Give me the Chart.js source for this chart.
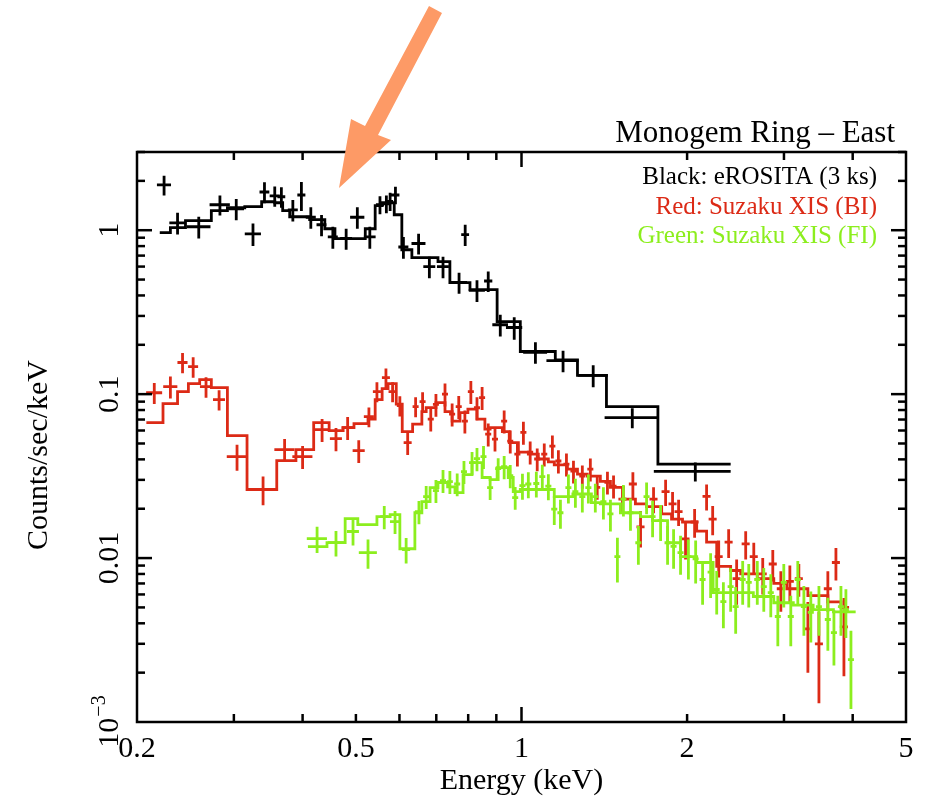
<!DOCTYPE html>
<html>
<head>
<meta charset="utf-8">
<script src="https://cdn.jsdelivr.net/npm/chart.js@4.4.4/dist/chart.umd.min.js"></script>
<style>
  html, body { margin: 0; padding: 0; background: #fff; }
  #wrap { width: 925px; height: 800px; }
</style>
</head>
<body>
<div id="wrap"><canvas id="spec" width="925" height="800"></canvas></div>
<script>
// eROSITA (black): bin centre, half width, counts/sec/keV, error
const blackE  = [0.224,0.237,0.259,0.283,0.303,0.325,0.341,0.356,0.366,0.384,0.398,0.414,0.433,0.454,0.480,0.503,0.530,0.553,0.568,0.577,0.590,0.610,0.650,0.680,0.720,0.770,0.790,0.830,0.870,0.915,0.970,1.06,1.19,1.35,1.59,2.07];
const blackDE = [0.0066,0.008,0.013,0.012,0.010,0.011,0.007,0.0075,0.006,0.008,0.0067,0.0087,0.009,0.0095,0.012,0.015,0.013,0.0093,0.0095,0.0073,0.0099,0.0128,0.019,0.017,0.018,0.026,0.013,0.028,0.015,0.03,0.033,0.053,0.08,0.085,0.174,0.33];
const blackY  = [1.89,1.11,1.05,1.43,1.35,0.95,1.71,1.62,1.60,1.33,1.64,1.20,1.08,0.91,0.89,1.20,0.91,1.43,1.45,1.50,1.64,0.79,0.83,0.60,0.60,0.48,0.94,0.43,0.49,0.265,0.255,0.18,0.16,0.13,0.072,0.0338];
const blackDY = [0.26,0.17,0.16,0.2,0.2,0.15,0.25,0.23,0.23,0.2,0.33,0.18,0.16,0.14,0.13,0.18,0.14,0.18,0.18,0.19,0.2,0.12,0.12,0.09,0.09,0.07,0.14,0.065,0.07,0.04,0.04,0.027,0.024,0.02,0.01,0.0045];
// model histogram: bin edges (one more than values) and values
const blackModelEdges = [0.220,0.230,0.245,0.273,0.292,0.314,0.337,0.356,0.368,0.379,0.412,0.439,0.458,0.520,0.542,0.558,0.587,0.606,0.632,0.705,0.741,0.806,0.903,0.995,1.152,1.264,1.427,1.770,2.400];
const blackModelY = [0.966,1.036,1.143,1.315,1.371,1.392,1.492,1.471,1.315,1.208,1.159,1.021,0.888,1.021,1.411,1.471,1.243,0.760,0.680,0.643,0.479,0.434,0.277,0.182,0.162,0.130,0.084,0.0374];

// Suzaku XIS BI (red)
const redE = [0.215,0.230,0.242,0.253,0.267,0.282,0.304,0.339,0.371,0.400,
  0.434,0.460,0.483,0.506,0.528,0.546,0.567,0.583,0.601,0.621,
  0.642,0.661,0.684,0.699,0.726,0.748,0.769,0.789,0.809,0.830,
  0.848,0.870,0.895,0.930,0.954,0.983,1.008,1.037,1.068,1.100,
  1.138,1.167,1.207,1.243,1.290,1.334,1.373,1.433,1.470,1.526,
  1.594,1.646,1.738,1.828,1.882,1.930,1.987,2.064,2.170,2.226,
  2.283,2.380,2.461,2.556,2.644,2.745,2.863,2.961,3.075,3.193,
  3.316,3.473,3.605,3.729,3.856];
const redDE = [0.0072,0.0068,0.0051,0.0053,0.0067,0.0071,0.0128,0.020,0.0156,0.0168,
  0.0146,0.0116,0.0122,0.0128,0.0111,0.0092,0.0095,0.0098,0.0076,0.0104,
  0.0081,0.0083,0.0086,0.0088,0.0091,0.0094,0.0097,0.0099,0.0102,0.0105,
  0.0107,0.011,0.0113,0.0117,0.012,0.0124,0.0127,0.0131,0.0135,0.0139,
  0.0143,0.0147,0.0152,0.0157,0.0163,0.0168,0.0173,0.0181,0.0185,0.0256,
  0.0268,0.0277,0.0292,0.0307,0.0316,0.0324,0.0334,0.0347,0.0365,0.0374,
  0.0384,0.040,0.0413,0.0429,0.0444,0.0461,0.0481,0.0497,0.0517,0.0536,
  0.0557,0.0583,0.0606,0.0626,0.0648];
const redY = [0.102,0.111,0.156,0.147,0.111,0.0925,0.0416,0.0262,0.0459,0.0416,
  0.0608,0.0535,0.0625,0.0452,0.0729,0.1036,0.126,0.1036,0.0851,0.0506,
  0.084,0.090,0.0704,0.0865,0.100,0.0755,0.084,0.0685,0.1036,0.0826,
  0.0953,0.057,0.0532,0.0685,0.0517,0.0431,0.0585,0.0443,0.0402,0.0431,
  0.0482,0.0391,0.0374,0.0339,0.0316,0.0349,0.0270,0.029,0.0275,0.0229,
  0.0283,0.0155,0.0229,0.0254,0.0214,0.0192,0.0131,0.0166,0.0238,0.0173,
  0.0102,0.0125,0.0075,0.0122,0.0102,0.0080,0.0092,0.0065,0.0072,0.0075,
  0.0037,0.0030,0.0065,0.0094,0.0038];
const redDY = [0.015,0.017,0.022,0.021,0.016,0.013,0.0075,0.0052,0.0073,0.0067,
  0.0097,0.0086,0.010,0.0072,0.010,0.0145,0.0176,0.0145,0.012,0.0081,
  0.0118,0.0126,0.0113,0.0138,0.016,0.0121,0.0134,0.011,0.0166,0.0132,
  0.0152,0.0091,0.0085,0.011,0.0083,0.0069,0.0094,0.0071,0.0064,0.0069,
  0.0077,0.0063,0.006,0.0054,0.0051,0.0056,0.0043,0.0046,0.0044,0.0041,
  0.0051,0.0039,0.0041,0.0046,0.0039,0.0035,0.0033,0.0033,0.0043,0.0035,
  0.0026,0.0025,0.0023,0.0024,0.0022,0.002,0.002,0.0018,0.0018,0.0017,
  0.0017,0.0017,0.0018,0.0021,0.0019];
const redModelEdges = [0.208,0.223,0.237,0.248,0.260,0.273,0.292,0.317,0.359,0.389,
  0.419,0.447,0.474,0.496,0.526,0.542,0.558,0.572,0.592,0.607,
  0.634,0.659,0.671,0.699,0.726,0.748,0.773,0.799,0.830,0.858,
  0.877,0.923,0.950,0.987,1.029,1.073,1.119,1.147,1.212,1.264,
  1.317,1.391,1.451,1.532,1.611,1.688,1.798,1.874,1.962,2.082,
  2.170,2.264,2.400,2.503,2.683,2.875,3.036,3.316,3.605,3.808,3.94];
const redModelY = [0.0670,0.0875,0.1036,0.116,0.1226,0.1096,0.0558,0.0262,0.0393,0.0459,
  0.067,0.0599,0.0625,0.0661,0.0704,0.0925,0.108,0.116,0.087,0.059,
  0.0656,0.0782,0.0828,0.0888,0.0782,0.0685,0.0771,0.081,0.0704,0.0612,
  0.0625,0.059,0.0506,0.0443,0.0431,0.0402,0.0386,0.037,0.0349,0.0325,
  0.0316,0.0294,0.027,0.0229,0.0214,0.0206,0.0186,0.0173,0.0166,0.0146,
  0.0125,0.0089,0.0084,0.008,0.0075,0.007,0.0065,0.0059,0.0054,0.0050];

// Suzaku XIS FI (green)
const greenE = [0.425,0.460,0.494,0.526,0.563,0.589,0.617,0.651,0.671,0.699,
  0.720,0.741,0.764,0.786,0.813,0.830,0.853,0.877,0.907,0.930,
  0.954,0.974,1.004,1.029,1.064,1.091,1.119,1.147,1.177,1.217,
  1.253,1.290,1.323,1.362,1.409,1.451,1.494,1.532,1.578,1.631,
  1.688,1.731,1.790,1.843,1.890,1.946,2.011,2.073,2.134,2.207,
  2.264,2.328,2.400,2.451,2.524,2.589,2.683,2.757,2.839,2.924,
  2.998,3.087,3.179,3.261,3.357,3.473,3.605,3.698,3.808,3.888,3.971];
const greenDE = [0.0179,0.0155,0.0124,0.0199,0.0095,0.0124,0.0104,0.0109,0.0085,0.0088,
  0.0091,0.0093,0.0096,0.0099,0.0102,0.0105,0.0107,0.011,0.0114,0.0117,
  0.012,0.0123,0.0127,0.013,0.0134,0.0137,0.0141,0.0145,0.0148,0.0153,
  0.0158,0.0163,0.0167,0.0172,0.0178,0.0183,0.0188,0.0193,0.0199,0.0206,
  0.0213,0.0218,0.0226,0.0232,0.0238,0.0245,0.0253,0.0261,0.0269,0.0278,
  0.0285,0.0293,0.0302,0.0309,0.0318,0.0326,0.0338,0.0347,0.0358,0.0368,
  0.0378,0.0389,0.0401,0.0411,0.0423,0.0438,0.0454,0.0466,0.048,0.049,0.05];
const greenY = [0.01315,0.01244,0.01452,0.0108,0.0179,0.0167,0.01127,0.0192,0.0237,0.0258,
  0.0297,0.0293,0.0283,0.0337,0.0382,0.0404,0.0416,0.0269,0.0351,0.0361,
  0.0318,0.0234,0.0277,0.0283,0.0285,0.0314,0.0275,0.0199,0.0189,0.0269,
  0.0254,0.0237,0.0269,0.0237,0.0221,0.0186,0.0102,0.0229,0.0189,0.0124,
  0.0237,0.0179,0.0169,0.0124,0.0118,0.0108,0.0102,0.0099,0.0074,0.0082,
  0.00643,0.00543,0.0067,0.00506,0.0074,0.0071,0.0074,0.0067,0.00616,0.0044,
  0.0071,0.0044,0.0074,0.00506,0.00466,0.00506,0.00422,0.00351,0.00506,0.00485,0.0024];
const greenDY = [0.0024,0.0022,0.0026,0.0022,0.0029,0.0027,0.002,0.0031,0.0038,0.0041,
  0.0048,0.0047,0.0045,0.0054,0.0061,0.0065,0.0067,0.0043,0.0056,0.0058,
  0.0051,0.0037,0.005,0.0051,0.0051,0.0057,0.005,0.004,0.0038,0.0054,
  0.0051,0.0047,0.0054,0.0047,0.0049,0.0041,0.0031,0.005,0.0042,0.0033,
  0.0052,0.0045,0.0042,0.0033,0.0032,0.0029,0.0028,0.0029,0.0022,0.0025,
  0.0019,0.0017,0.002,0.0016,0.0022,0.0021,0.0022,0.002,0.0018,0.0015,
  0.0021,0.0015,0.0022,0.0017,0.0016,0.0017,0.0015,0.0013,0.0017,0.0016,0.0012];
const greenModelEdges = [0.409,0.443,0.478,0.504,0.546,0.577,0.601,0.640,0.659,0.682,
  0.705,0.734,0.757,0.783,0.813,0.848,0.877,0.903,0.946,0.966,
  0.995,1.147,1.240,1.340,1.391,1.513,1.646,1.731,1.843,1.946,
  2.082,2.230,2.639,2.875,3.12,3.39,3.69,4.05];
const greenModelY = [0.01175,0.01244,0.0174,0.016,0.0179,0.0184,0.0114,0.0189,0.0221,0.0269,
  0.0289,0.0272,0.0251,0.0323,0.0382,0.031,0.0301,0.0356,0.031,0.0254,
  0.0262,0.0237,0.0246,0.0218,0.0214,0.0189,0.0179,0.0169,0.0124,0.0102,
  0.0094,0.00616,0.00583,0.00534,0.00516,0.00485,0.0047];

// axes
const xTickValues = [0.2, 0.5, 1, 2, 5];
const xTickLabels = ['0.2', '0.5', '1', '2', '5'];
const xTickMarks = [0.3, 0.4, 0.5, 0.6, 0.7, 0.8, 0.9, 1, 2, 3, 4];
const yTickValues = [1, 0.1, 0.01, 0.001];
const yTickLabels = ['1', '0.1', '0.01', '10'];
const legendLines = ['Black: eROSITA (3 ks)', 'Red: Suzaku XIS (BI)', 'Green: Suzaku XIS (FI)'];

const BLACK = '#000000';
const RED = '#dc2a16';
const GREEN = '#8cee1e';
const SERIF = '"Liberation Serif", "Times New Roman", serif';

function crosses(E, dE, Y, dY) {
    const pts = [];
    E.forEach((e, i) => {
        pts.push({ x: e - dE[i], y: Y[i] }, { x: e + dE[i], y: Y[i] }, { x: e, y: null });
        pts.push({ x: e, y: Math.max(Y[i] - dY[i], 1e-4) }, { x: e, y: Y[i] + dY[i] }, { x: e, y: null });
    });
    return pts;
}

function histogram(edges, vals) {
    return edges.map((e, i) => ({ x: e, y: vals[Math.min(i, vals.length - 1)] }));
}

function errSet(pts, color) {
    return { data: pts, borderColor: color, borderWidth: 2.8, showLine: true, spanGaps: false, pointRadius: 0 };
}
function modelSet(pts, color) {
    return { data: pts, borderColor: color, borderWidth: 2.8, showLine: true, stepped: 'before', pointRadius: 0 };
}

const datasets = [
    errSet(crosses(blackE, blackDE, blackY, blackDY), BLACK),
    modelSet(histogram(blackModelEdges, blackModelY), BLACK),
    errSet(crosses(redE, redDE, redY, redDY), RED),
    modelSet(histogram(redModelEdges, redModelY), RED),
    errSet(crosses(greenE, greenDE, greenY, greenDY), GREEN),
    modelSet(histogram(greenModelEdges, greenModelY), GREEN)
];
// later datasets drawn on top
datasets.forEach((d, i) => { d.order = datasets.length - i; });

function line(ctx, x1, y1, x2, y2) {
    ctx.beginPath(); ctx.moveTo(x1, y1); ctx.lineTo(x2, y2); ctx.stroke();
}

const framePlugin = {
    id: 'frame',
    afterDraw(chart) {
        const { ctx, chartArea: a, scales: { x, y } } = chart;
        ctx.save();
        ctx.strokeStyle = '#000';
        ctx.lineWidth = 2.5;
        ctx.lineCap = 'butt';
        ctx.strokeRect(a.left, a.top, a.right - a.left, a.bottom - a.top);

        // x ticks, bottom and top
        xTickMarks.forEach(v => {
            const px = x.getPixelForValue(v);
            const len = v === 1 ? 15 : 8;
            line(ctx, px, a.bottom, px, a.bottom - len);
            line(ctx, px, a.top, px, a.top + len);
        });
        // y ticks, left and right
        for (let d = 0.001; d <= 1; d *= 10) {
            for (let m = 1; m <= 9; m++) {
                const v = d * m;
                if (v > 3.0001 || v <= 0.001) continue;
                const py = y.getPixelForValue(v);
                const len = m === 1 ? 15 : 8;
                line(ctx, a.left, py, a.left + len, py);
                line(ctx, a.right, py, a.right - len, py);
            }
        }

        ctx.fillStyle = '#000';
        ctx.font = '30px ' + SERIF;
        ctx.textAlign = 'center';
        ctx.textBaseline = 'alphabetic';
        xTickValues.forEach((v, i) => {
            ctx.fillText(xTickLabels[i], x.getPixelForValue(v), 757);
        });
        ctx.fillText('Energy (keV)', (a.left + a.right) / 2, 789);

        // y tick labels, rotated
        yTickValues.forEach((v, i) => {
            const py = y.getPixelForValue(v);
            ctx.save();
            ctx.translate(118, py);
            ctx.rotate(-Math.PI / 2);
            ctx.textAlign = 'left';
            if (v === 0.001) {
                ctx.font = '30px ' + SERIF;
                const w1 = ctx.measureText(yTickLabels[i]).width;
                ctx.font = '20px ' + SERIF;
                const w2 = ctx.measureText('\u22123').width;
                const x0 = -(w1 + w2) / 2;
                ctx.font = '30px ' + SERIF;
                ctx.fillText(yTickLabels[i], x0, 0);
                ctx.font = '20px ' + SERIF;
                ctx.fillText('\u22123', x0 + w1 + 1, -13);
            } else {
                ctx.textAlign = 'center';
                ctx.fillText(yTickLabels[i], 0, 0);
            }
            ctx.restore();
        });
        ctx.save();
        ctx.translate(47, 455);
        ctx.rotate(-Math.PI / 2);
        ctx.textAlign = 'center';
        ctx.font = '30px ' + SERIF;
        ctx.fillText('Counts/sec/keV', 0, 0);
        ctx.restore();

        // title and legend text
        ctx.textAlign = 'right';
        ctx.font = '31px ' + SERIF;
        ctx.fillText('Monogem Ring \u2013 East', 895, 142);
        ctx.font = '25px ' + SERIF;
        [BLACK, RED, GREEN].forEach((c, i) => {
            ctx.fillStyle = c;
            ctx.fillText(legendLines[i], 877, 184 + i * 29.5);
        });

        // annotation arrow
        ctx.fillStyle = '#fd9a66';
        ctx.beginPath();
        ctx.moveTo(429, 6);
        ctx.lineTo(442, 13);
        ctx.lineTo(378, 135);
        ctx.lineTo(391, 140);
        ctx.lineTo(339, 188);
        ctx.lineTo(351, 119);
        ctx.lineTo(365, 126);
        ctx.closePath();
        ctx.fill();
        ctx.restore();
    }
};

new Chart(document.getElementById('spec'), {
    type: 'scatter',
    data: { datasets },
    options: {
        responsive: false,
        animation: false,
        devicePixelRatio: 1,
        layout: { padding: { left: 137, right: 19, top: 152, bottom: 78 } },
        plugins: { legend: { display: false }, tooltip: { enabled: false } },
        scales: {
            x: { type: 'logarithmic', min: 0.2, max: 5, display: false },
            y: { type: 'logarithmic', min: 0.001, max: 3, display: false }
        }
    },
    plugins: [framePlugin]
});
</script>
</body>
</html>
